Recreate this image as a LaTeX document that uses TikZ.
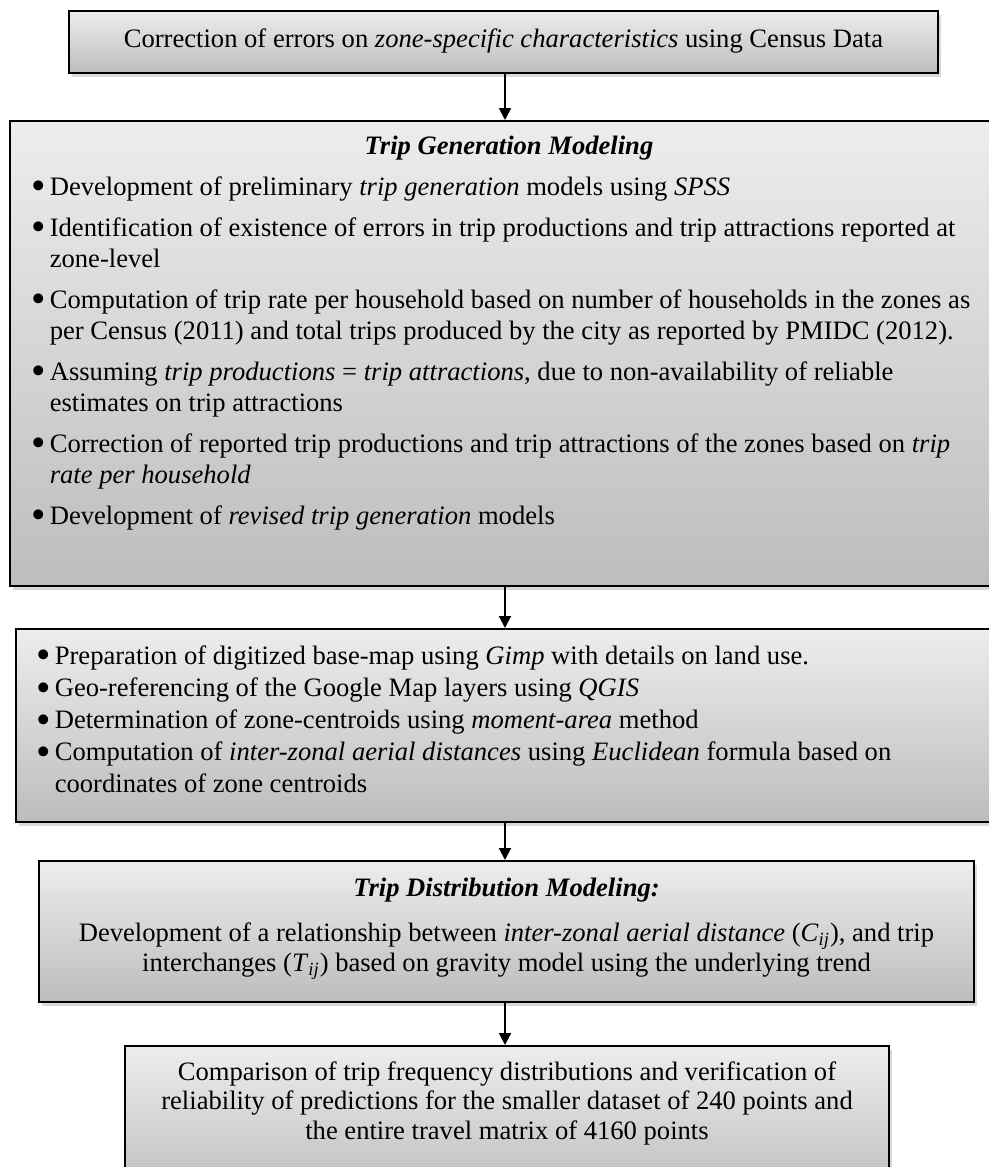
\documentclass[tikz,border=0pt]{standalone}
\usepackage{graphicx}
\usepackage{fontspec}
\setmainfont{Liberation Serif}
\usetikzlibrary{arrows.meta,shadows}
\definecolor{boxtop}{gray}{0.93}
\definecolor{boxbot}{gray}{0.74}
\newcommand{\bitem}[1]{\par\hangindent=9.2pt\hangafter=1\noindent
  \makebox[9.2pt][l]{\raisebox{-2.4pt}[0pt][0pt]{\scalebox{1.55}{\textbullet}}}#1}
\newcommand{\sub}[2]{\textit{#1}\textsubscript{\textit{#2}}}

\begin{document}
\begin{tikzpicture}[x=0.5pt,y=-0.5pt,
    stage/.style={draw=black,line width=1pt,top color=boxtop,bottom color=boxbot,
      anchor=north west,inner ysep=0pt,
      drop shadow={shadow xshift=1.5pt,shadow yshift=-1.8pt,opacity=0.3}},
    flow/.style={line width=1pt,-{Triangle[length=6pt,width=6pt]}}]
    \useasboundingbox (0,0) rectangle (989,1167);
    \coordinate (axis) at (505,0);
%   census correction
    \node[stage,inner xsep=0pt] (census) at (68,10) {\parbox[c][31pt][t]{434.5pt}{\centering
      \fontsize{13.3}{15.5}\selectfont\rule{0pt}{18pt}Correction of errors on \textit{zone-specific characteristics} using Census Data}};
%   trip generation
    \node[stage,inner xsep=10.7pt] (gen) at (9,120) {\parbox[c][232.5pt][t]{477.6pt}{\raggedright
      \fontsize{13.3}{15.5}\selectfont\parskip=5pt
      {\centering\rule{0pt}{16.5pt}\textbf{\textit{Trip Generation Modeling}}\par}
      \bitem{Development of preliminary \textit{trip generation} models using \textit{SPSS}}
      \bitem{Identification of existence of errors in trip productions and trip attractions reported at\newline zone-level}
      \bitem{Computation of trip rate per household based on number of households in the zones as\newline per Census (2011) and total trips produced by the city as reported by PMIDC (2012).}
      \bitem{Assuming \textit{trip productions} = \textit{trip attractions}, due to non-availability of reliable\newline estimates on trip attractions}
      \bitem{Correction of reported trip productions and trip attractions of the zones based on \textit{trip}\newline \textit{rate per household}}
      \bitem{Development of \textit{revised trip generation} models}}};
%   base map and distances
    \node[stage,inner xsep=10.2pt] (maps) at (15,628) {\parbox[c][96.5pt][t]{472.6pt}{\raggedright
      \fontsize{13.3}{16.1}\selectfont
      \bitem{\rule{0pt}{17.5pt}Preparation of digitized base-map using \textit{Gimp} with details on land use.}
      \bitem{Geo-referencing of the Google Map layers using \textit{QGIS}}
      \bitem{Determination of zone-centroids using \textit{moment-area} method}
      \bitem{Computation of \textit{inter-zonal aerial distances} using \textit{Euclidean} formula based on\newline coordinates of zone centroids}}};
%   trip distribution
    \node[stage,inner xsep=0pt] (dist) at (38,860) {\parbox[c][70.5pt][t]{467.5pt}{\centering
      \fontsize{13.3}{15}\selectfont\parskip=7.5pt
      \rule{0pt}{17.5pt}\textbf{\textit{Trip Distribution Modeling:}}\par
      Development of a relationship between \textit{inter-zonal aerial distance} (\sub{C}{ij}), and trip\\
      interchanges (\sub{T}{ij}) based on gravity model using the underlying trend}};
%   comparison
    \node[stage,inner xsep=0pt] (comp) at (124,1045) {\parbox[c][75pt][t]{382pt}{\centering
      \fontsize{13.3}{14.75}\selectfont
      \rule{0pt}{17pt}Comparison of trip frequency distributions and verification of\\
      reliability of predictions for the smaller dataset of 240 points and\\
      the entire travel matrix of 4160 points}};

    \draw[flow] (axis |- census.south) -- (axis |- gen.north);
    \draw[flow] (axis |- gen.south) -- (axis |- maps.north);
    \draw[flow] (axis |- maps.south) -- (axis |- dist.north);
    \draw[flow] (axis |- dist.south) -- (axis |- comp.north);
\end{tikzpicture}
\end{document}
